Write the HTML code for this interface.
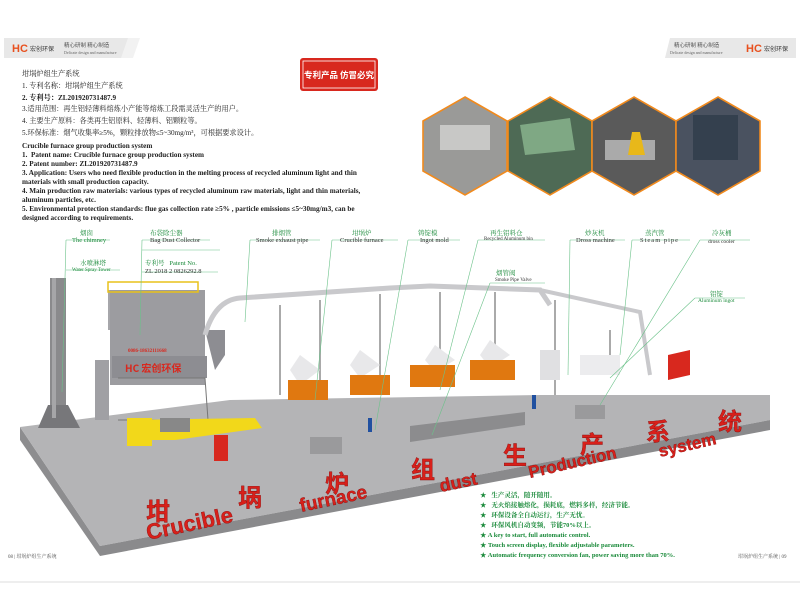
<!DOCTYPE html>
<html><head><meta charset="utf-8"><style>
body{margin:0;width:800px;height:600px;overflow:hidden;background:#fff;font-family:"Liberation Serif","Noto Serif CJK SC",serif;}
svg{position:absolute;left:0;top:0}
.t{position:absolute;font-size:7.2px;font-weight:bold;color:#222;white-space:nowrap;line-height:9px}
</style></head><body>
<svg width="800" height="600" viewBox="0 0 800 600" font-family="Liberation Serif, Noto Serif CJK SC, serif">
<polygon points="4,38 135,38 128,58 4,58" fill="#e8e8e8"/>
<polygon points="128,38 140,38 133,58 121,58" fill="#f2f2f2"/>
<text x="12" y="52" font-family="Liberation Sans, sans-serif" font-weight="bold" font-size="11" fill="#e8501e">HC</text>
<text x="30" y="51" font-size="6" fill="#333" font-family="Liberation Sans, Noto Sans CJK SC, sans-serif">宏创环保</text>
<text x="64" y="47" font-size="5.5" fill="#555" font-family="Noto Sans CJK SC, sans-serif">精心研制  精心制造</text>
<text x="64" y="54" font-size="4" fill="#666">Delicate design and manufacture</text>
<polygon points="670,38 796,38 796,58 665,58" fill="#e8e8e8"/>
<text x="674" y="47" font-size="5.5" fill="#555" font-family="Noto Sans CJK SC, sans-serif">精心研制  精心制造</text>
<text x="670" y="54" font-size="4" fill="#666">Delicate design and manufacture</text>
<text x="746" y="52" font-family="Liberation Sans, sans-serif" font-weight="bold" font-size="11" fill="#e8501e">HC</text>
<text x="764" y="51" font-size="6" fill="#333" font-family="Noto Sans CJK SC, sans-serif">宏创环保</text>
<rect x="300" y="58" width="78" height="33" rx="3" fill="#d8281e"/>
<rect x="303" y="61" width="72" height="27" fill="none" stroke="#fff" stroke-width="0.8"/>
<text x="339" y="78" text-anchor="middle" font-size="8.5" fill="#fff" font-weight="bold" font-family="Noto Sans CJK SC, sans-serif">专利产品 仿冒必究</text>
<g stroke="#f08a1e" stroke-width="1.6">
<polygon points="465,97 507,121 507,171 465,195 423,171 423,121" fill="#9a9a98"/>
<polygon points="550,97 592,121 592,171 550,195 508,171 508,121" fill="#4e6a55"/>
<polygon points="634,97 676,121 676,171 634,195 592,171 592,121" fill="#5a5a5a"/>
<polygon points="718,97 760,121 760,171 718,195 676,171 676,121" fill="#4a5260"/>
</g>
<rect x="440" y="125" width="50" height="25" fill="#c8c8c6"/>
<polygon points="520,125 570,118 575,150 525,155" fill="#7fa884"/>
<rect x="605" y="140" width="50" height="20" fill="#aaa"/>
<polygon points="632,132 640,132 645,155 628,155" fill="#e8b81a"/>
<rect x="693" y="115" width="45" height="45" fill="#34404e"/>
<polygon points="20,427 20,440 100,556 100,546" fill="#8d8d8f"/>
<polygon points="20,427 230,400 540,395 770,395 770,420 100,546" fill="#b4b4b6"/>
<polygon points="100,546 770,420 770,430 100,556" fill="#8a8a8c"/>
<rect x="50" y="278" width="16" height="130" fill="#8a8a8c"/>
<polygon points="48,405 68,405 80,428 38,428" fill="#77777a"/>
<rect x="52" y="278" width="4" height="140" fill="#a6a6a8"/>
<polygon points="108,290 205,290 205,330 108,330" fill="#a6a6aa"/>
<rect x="110" y="290" width="95" height="95" fill="#9c9ca0"/>
<rect x="108" y="282" width="90" height="10" fill="none" stroke="#e8c21a" stroke-width="1.5"/>
<rect x="112" y="356" width="95" height="22" fill="#8d8d92"/>
<text x="125" y="372" font-size="10" fill="#d8281e" font-weight="bold" font-family="Noto Sans CJK SC, sans-serif">HC 宏创环保</text>
<text x="128" y="352" font-size="5" fill="#d8281e" font-weight="bold">0086-18632111668</text>
<rect x="95" y="360" width="14" height="60" fill="#a0a0a4"/>
<path d="M118,378 L205,378 L208,420 L118,420" fill="none" stroke="#777" stroke-width="1"/>
<polygon points="205,330 225,330 225,355 215,370" fill="#8d8d92"/>
<path d="M205,335 Q215,300 240,298 L390,288 L430,286 L540,290 L550,305" fill="none" stroke="#c9c9cc" stroke-width="5"/>
<path d="M430,286 L540,290 L640,312 L650,375" fill="none" stroke="#c9c9cc" stroke-width="4"/>
<g stroke="#aaa" stroke-width="2">
<line x1="280" y1="305" x2="280" y2="395"/><line x1="320" y1="300" x2="320" y2="395"/><line x1="380" y1="294" x2="380" y2="385"/><line x1="440" y1="292" x2="440" y2="385"/><line x1="495" y1="292" x2="495" y2="370"/><line x1="555" y1="300" x2="555" y2="395"/><line x1="610" y1="330" x2="610" y2="375"/>
</g>
<polygon points="300,355 320,370 300,385 290,370" fill="#e8e8ea"/>
<rect x="288" y="380" width="40" height="20" fill="#e07810"/>
<polygon points="360,350 380,365 360,378 350,365" fill="#e8e8ea"/>
<rect x="350" y="375" width="40" height="20" fill="#e07810"/>
<polygon points="435,345 455,360 435,372 425,360" fill="#e8e8ea"/>
<rect x="410" y="365" width="45" height="22" fill="#e07810"/>
<polygon points="490,340 510,355 490,368 480,355" fill="#e8e8ea"/>
<rect x="470" y="360" width="45" height="20" fill="#e07810"/>
<rect x="540" y="350" width="20" height="30" fill="#e0e0e2"/>
<rect x="580" y="355" width="40" height="20" fill="#ececee"/>
<polygon points="668,355 690,350 690,375 668,380" fill="#d8281e"/>
<polygon points="127,420 255,418 262,428 175,440 130,440" fill="#f2d81a"/>
<rect x="127" y="418" width="25" height="28" fill="#f2d81a"/>
<rect x="160" y="418" width="30" height="14" fill="#888"/>
<rect x="214" y="435" width="14" height="26" fill="#d8281e"/>
<rect x="310" y="437" width="32" height="17" fill="#9a9a9c"/>
<polygon points="410,426 525,412 525,425 410,442" fill="#8c8c8e"/>
<rect x="575" y="405" width="30" height="14" fill="#9a9a9c"/>
<rect x="368" y="418" width="4" height="14" fill="#2050a0"/>
<rect x="532" y="395" width="4" height="14" fill="#2050a0"/>
<g stroke="#6cc28a" stroke-width="0.6" fill="none">
<line x1="66" y1="240" x2="62" y2="392"/><line x1="66" y1="240" x2="110" y2="240"/>
<line x1="142" y1="240" x2="140" y2="335"/><line x1="142" y1="240" x2="210" y2="240"/>
<line x1="142" y1="250" x2="220" y2="250"/><line x1="66" y1="270" x2="120" y2="270"/>
<line x1="142" y1="272" x2="218" y2="272"/>
<line x1="250" y1="240" x2="245" y2="322"/><line x1="250" y1="240" x2="320" y2="240"/>
<line x1="332" y1="240" x2="315" y2="400"/><line x1="332" y1="240" x2="398" y2="240"/>
<line x1="408" y1="240" x2="375" y2="430"/><line x1="408" y1="240" x2="460" y2="240"/>
<line x1="478" y1="240" x2="440" y2="390"/><line x1="478" y1="240" x2="545" y2="240"/>
<line x1="490" y1="283" x2="432" y2="435"/><line x1="490" y1="283" x2="545" y2="283"/>
<line x1="570" y1="240" x2="568" y2="375"/><line x1="570" y1="240" x2="625" y2="240"/>
<line x1="632" y1="240" x2="620" y2="355"/><line x1="632" y1="240" x2="690" y2="240"/>
<line x1="700" y1="240" x2="600" y2="405"/><line x1="700" y1="240" x2="750" y2="240"/>
<line x1="695" y1="298" x2="610" y2="378"/><line x1="695" y1="298" x2="745" y2="298"/>
</g>
<g fill="#d8201a" font-weight="bold" font-family="Noto Sans CJK SC, sans-serif" stroke="#8a1010" stroke-width="0.4" font-size="24">
<text x="146" y="520">坩</text>
<text x="238" y="506">埚</text>
<text x="325" y="492">炉</text>
<text x="411" y="478">组</text>
<text x="503" y="464">生</text>
<text x="580" y="453">产</text>
<text x="646" y="440">系</text>
<text x="718" y="430">统</text>
</g>
<g fill="#d8201a" font-weight="bold" font-family="Liberation Sans, sans-serif" stroke="#8a1010" stroke-width="0.4">
<text x="148" y="540" font-size="22" transform="rotate(-12 148 540)">Crucible</text>
<text x="301" y="512" font-size="19" transform="rotate(-12 301 512)">furnace</text>
<text x="441" y="492" font-size="18" transform="rotate(-12 441 492)">dust</text>
<text x="530" y="478" font-size="17" transform="rotate(-13 530 478)">Production</text>
<text x="660" y="457" font-size="17" transform="rotate(-13 660 457)">system</text>
</g>
<line x1="0" y1="582" x2="800" y2="582" stroke="#ddd"/>
<text x="8" y="558" font-size="5" fill="#555">08 | 坩埚炉组生产系统</text>
<text x="738" y="558" font-size="5" fill="#555">坩埚炉组生产系统 | 09</text>
</svg>

<div class="t" style="left:22px;top:70px;font-weight:normal">坩埚炉组生产系统</div>
<div class="t" style="left:22px;top:82px;font-weight:normal">1. 专利名称：坩埚炉组生产系统</div>
<div class="t" style="left:22px;top:94px">2. 专利号：ZL201920731487.9</div>
<div class="t" style="left:22px;top:105px;font-weight:normal">3.适用范围：再生铝轻薄料熔炼小产能等熔炼工段需灵活生产的用户。</div>
<div class="t" style="left:22px;top:117px;font-weight:normal">4. 主要生产原料：各类再生铝原料、轻薄料、铝颗粒等。</div>
<div class="t" style="left:22px;top:129px;font-weight:normal">5.环保标准：烟气收集率≥5%，颗粒排放物≤5~30mg/m³，可根据要求设计。</div>
<div class="t" style="left:22px;top:142px">Crucible furnace group production system</div>
<div class="t" style="left:22px;top:151px">1.&nbsp; Patent name: Crucible furnace group production system</div>
<div class="t" style="left:22px;top:160px">2. Patent number: ZL201920731487.9</div>
<div class="t" style="left:22px;top:169px">3. Application: Users who need flexible production in the melting process of recycled aluminum light and thin</div>
<div class="t" style="left:22px;top:178px">materials with small production capacity.</div>
<div class="t" style="left:22px;top:187px">4. Main production raw materials: various types of recycled aluminum raw materials, light and thin materials,</div>
<div class="t" style="left:22px;top:196px">aluminum particles, etc.</div>
<div class="t" style="left:22px;top:205px">5. Environmental protection standards: flue gas collection rate ≥5% , particle emissions ≤5~30mg/m3, can be</div>
<div class="t" style="left:22px;top:214px">designed according to requirements.</div>

<div style="position:absolute;left:0;top:0;font-size:6.5px;color:#1a8a3a;font-family:'Liberation Serif','Noto Serif CJK SC',serif;white-space:nowrap">
<div style="position:absolute;left:80px;top:228px">烟囱</div>
<div style="position:absolute;left:72px;top:237px">The chimney</div>
<div style="position:absolute;left:150px;top:228px">布袋除尘器</div>
<div style="position:absolute;left:150px;top:237px;color:#333">Bag Dust Collector</div>
<div style="position:absolute;left:80px;top:258px">水喷淋塔</div>
<div style="position:absolute;left:72px;top:268px;font-size:5px">Water Spray Tower</div>
<div style="position:absolute;left:145px;top:258px">专利号&nbsp;&nbsp; Patent No.</div>
<div style="position:absolute;left:145px;top:268px;color:#333">ZL 2018 2 0826292.8</div>
<div style="position:absolute;left:272px;top:228px">排烟管</div>
<div style="position:absolute;left:256px;top:237px;color:#333">Smoke exhaust pipe</div>
<div style="position:absolute;left:352px;top:228px">坩埚炉</div>
<div style="position:absolute;left:340px;top:237px;color:#333">Crucible furnace</div>
<div style="position:absolute;left:418px;top:228px">铸锭模</div>
<div style="position:absolute;left:420px;top:237px;color:#333">Ingot mold</div>
<div style="position:absolute;left:490px;top:228px">再生铝料仓</div>
<div style="position:absolute;left:484px;top:237px;color:#333;font-size:5px">Recycled Aluminum bin</div>
<div style="position:absolute;left:496px;top:268px">烟管阀</div>
<div style="position:absolute;left:495px;top:278px;color:#333;font-size:5px">Smoke Pipe Valve</div>
<div style="position:absolute;left:585px;top:228px">炒灰机</div>
<div style="position:absolute;left:576px;top:237px;color:#333">Dross machine</div>
<div style="position:absolute;left:645px;top:228px">蒸汽管</div>
<div style="position:absolute;left:640px;top:237px;color:#333;letter-spacing:1px">Steam pipe</div>
<div style="position:absolute;left:712px;top:228px">冷灰桶</div>
<div style="position:absolute;left:708px;top:239px;color:#333;font-size:5.5px">dross cooler</div>
<div style="position:absolute;left:710px;top:289px">铝锭</div>
<div style="position:absolute;left:698px;top:298px;font-size:5.5px">Aluminum ingot</div>
</div>

<div style="position:absolute;left:480px;top:491px;font-size:6.5px;font-weight:bold;color:#1a8a3a;line-height:10px;white-space:nowrap;font-family:'Liberation Serif','Noto Serif CJK SC',serif">
<div>★ &nbsp; 生产灵活，随开随用。</div>
<div>★ &nbsp; 无火焰接触熔化，损耗底，燃料多样，经济节能。</div>
<div>★ &nbsp; 环保设备全自动运行，生产无忧。</div>
<div>★ &nbsp; 环保风机自动变频，节能70%以上。</div>
<div>★ A key to start, full automatic control.</div>
<div>★ Touch screen display, flexible adjustable parameters.</div>
<div>★ Automatic frequency conversion fan, power saving more than 70%.</div>
</div>
</body></html>
